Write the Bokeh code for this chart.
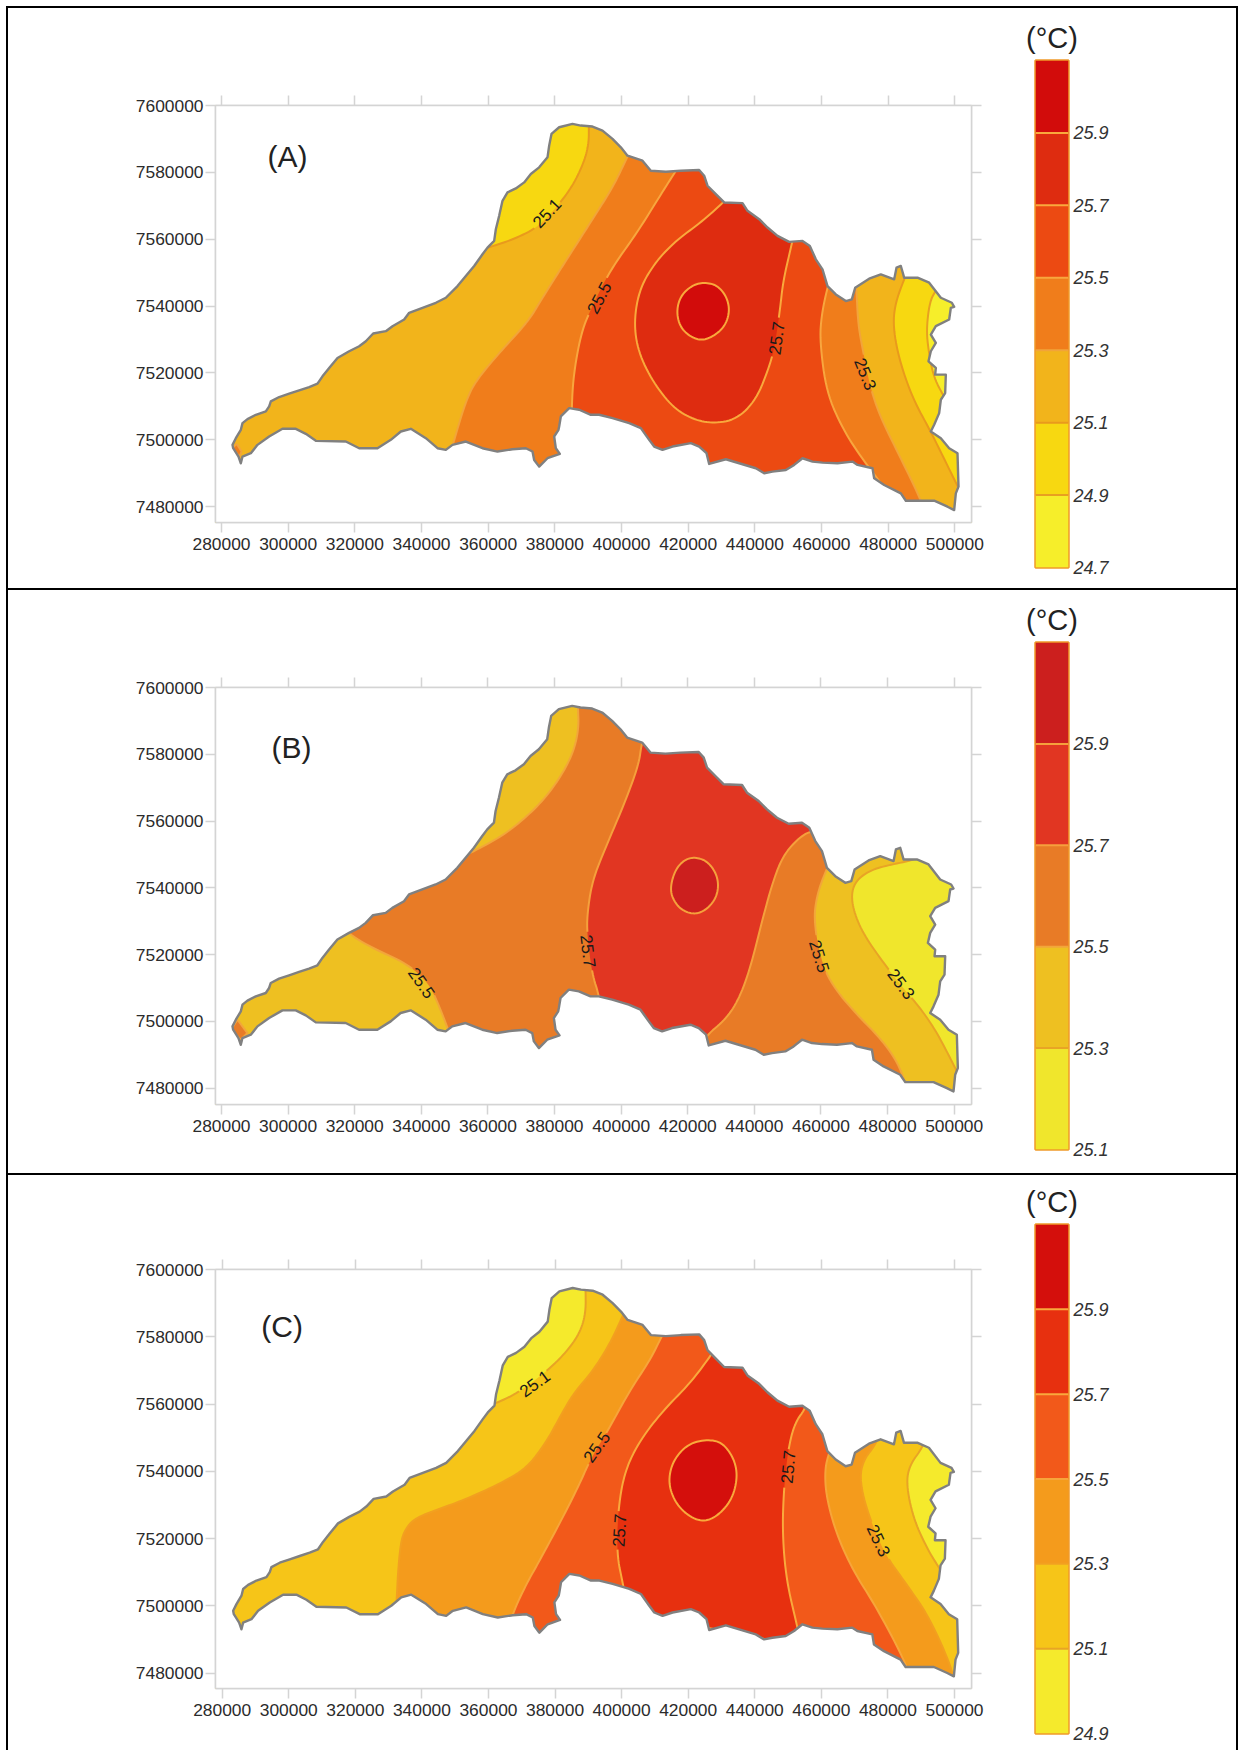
from bokeh.plotting import figure
from bokeh.layouts import column, row
from bokeh.models import (LinearAxis, FixedTicker, BasicTickFormatter, Div, Label,
                          Range1d, ColumnDataSource)
from bokeh.core.properties import value
from bokeh.embed import file_html
from bokeh.resources import INLINE

FONT = "Liberation Sans"
X_TICKS = [280000 + 20000 * i for i in range(12)]
Y_TICKS = [7480000 + 20000 * i for i in range(7)]

# Basin outline (km)
OUTLINE = [(285.8,7493.0),(285.1,7495.0),(283.5,7497.5),(283.3,7498.5),(284.3,7500.5),(285.8,7503.0),(286.3,7505.0),
(287.8,7506.2),(290.3,7507.5),(293.3,7508.5),(294.3,7510.0),(294.8,7511.5),(297.3,7512.8),(300.3,7513.8),(303.3,7514.8),
(306.3,7515.8),(308.8,7516.8),(310.3,7519.0),(312.3,7521.5),(314.8,7524.5),(318.3,7526.5),(321.3,7528.0),(323.3,7529.5),
(325.5,7531.8),(329.3,7532.5),(331.3,7534.0),(334.8,7536.0),(336.3,7538.0),(340.3,7539.5),(344.3,7541.0),(347.3,7542.5),
(350.8,7546.0),(353.3,7549.0),(355.8,7552.0),(358.3,7555.5),(359.8,7557.5),(361.8,7559.5),(362.3,7563.0),(363.3,7567.0),
(364.3,7571.5),(365.8,7574.0),(368.3,7575.2),(370.8,7577.0),(372.8,7579.5),(375.3,7581.5),(377.8,7584.5),(378.3,7588.0),
(379.0,7591.5),(381.3,7593.5),(385.3,7594.5),(387.8,7594.0),(391.3,7593.7),(394.3,7592.5),(397.3,7590.0),(399.8,7587.5),
(401.8,7585.0),(406.3,7583.5),(408.8,7580.5),(413.3,7580.2),(417.8,7580.5),(423.3,7580.7),(424.8,7579.0),(425.8,7576.0),
(428.3,7573.5),(430.8,7571.0),(436.3,7570.8),(437.8,7568.5),(441.3,7566.0),(443.8,7563.5),(446.8,7561.0),(450.3,7559.2),
(454.3,7559.5),(456.5,7558.0),(458.3,7554.0),(460.3,7551.0),(461.8,7546.0),(464.3,7543.5),(467.3,7541.5),(469.1,7542.0),
(470.1,7545.5),(474.3,7548.2),(477.8,7549.5),(481.8,7548.0),(482.5,7551.5),(483.8,7552.0),(484.8,7548.5),(488.8,7548.5),
(492.3,7547.0),(495.8,7542.5),(499.1,7541.0),(499.8,7539.8),(498.8,7539.5),(498.3,7536.0),(494.3,7534.0),(492.8,7531.5),
(494.3,7529.0),(492.8,7526.5),(492.1,7523.5),(494.3,7521.5),(494.1,7519.5),(497.3,7519.5),(497.1,7514.0),(495.8,7512.0),
(495.3,7508.0),(493.8,7504.5),(492.8,7502.5),(495.8,7500.5),(498.3,7497.5),(500.8,7496.0),(501.1,7486.0),(500.3,7484.0),
(499.8,7479.0),(497.8,7480.0),(493.8,7481.8),(485.3,7481.8),(483.8,7484.0),(478.8,7486.5),(475.8,7488.5),(475.3,7491.5),
(470.8,7492.5),(469.3,7493.5),(464.8,7493.0),(460.3,7493.2),(457.3,7493.5),(454.3,7494.5),(451.8,7492.5),(449.3,7491.0),
(445.3,7490.5),(442.8,7490.0),(440.3,7491.5),(435.3,7493.0),(431.3,7494.2),(426.3,7492.8),(425.5,7496.0),(423.3,7498.0),
(420.8,7499.0),(415.3,7498.0),(412.3,7497.0),(409.8,7498.0),(408.3,7500.0),(405.8,7503.5),(402.3,7505.0),(397.3,7506.5),
(393.3,7507.5),(390.8,7507.5),(387.3,7509.0),(384.3,7509.5),(381.8,7507.0),(381.3,7504.0),(381.1,7503.0),(379.8,7501.0),
(380.3,7497.5),(381.5,7495.8),(377.8,7494.5),(375.3,7492.0),(373.8,7494.0),(373.3,7496.5),(371.3,7497.5),(367.3,7497.2),
(362.8,7496.5),(358.3,7497.5),(353.3,7499.5),(349.3,7498.5),(347.3,7497.0),(344.8,7497.5),(341.3,7500.5),(336.8,7503.3),
(333.8,7502.5),(330.8,7500.0),(326.8,7497.5),(321.3,7497.5),(317.3,7499.5),(308.3,7499.7),(305.3,7501.8),(302.3,7503.3),
(298.3,7503.3),(294.3,7501.0),(290.8,7498.5),(288.8,7496.0),(286.3,7495.0)]

# Panel A contours
A_251W = [(390.2,7597),(390.2,7593.6),(390.2,7589.1),(389.1,7584.0),(385.9,7576.9),(381.6,7570.8),(375.2,7563.8),(368.2,7560.2),(360.7,7557.7),(355,7556)]
A_253W = [(404,7589),(401.7,7584.5),(397.6,7575.9),(391.2,7565.8),(382.7,7552.6),(376.3,7542.5),(372.0,7535.4),(364.5,7527.3),(357.5,7519.2),(353.8,7513.2),(349.5,7499.0),(347,7490)]
A_255W = [(420,7586),(416.0,7580.0),(411.5,7572.9),(404.5,7561.7),(396.5,7550.6),(391.0,7539.5),(388.0,7532.4),(385.7,7520.2),(385.0,7509.6),(385,7490)]
A_255E = [(464,7552),(462.0,7546.6),(460.0,7537.4),(459.5,7529.4),(461.5,7514.2),(466.5,7503.0),(472.5,7493.9),(481,7483)]
A_253E = [(470,7552),(470.5,7544.5),(471.0,7534.4),(472.5,7526.3),(474.5,7516.2),(477.5,7507.1),(483.5,7495.0),(489.5,7482.8),(491,7478)]
A_251E = [(487,7553),(485.0,7548.6),(482.0,7540.5),(481.5,7533.4),(483.5,7523.3),(487.5,7512.1),(492.5,7503.0),(497.5,7492.9),(501.0,7485.8),(503,7482)]
A_249E = [(497,7550),(494.5,7545.0),(492.5,7541.5),(491.5,7533.4),(492.0,7527.3),(493.5,7519.2),(496.5,7513.2),(500,7508)]
A_257 = [(433,7574),(430.5,7570.9),(423.5,7564.8),(416.5,7559.7),(410.5,7553.6),(405.5,7545.5),(403.7,7535.4),(405.0,7526.3),(409.5,7517.2),(415.5,7509.6),(421.5,7506.1),(427.5,7504.9),(434.5,7506.1),(440.5,7512.1),(444.5,7522.3),(446.0,7528.3),(447.5,7538.5),(448.5,7547.6),(451.0,7558.2),(452,7563)]
A_259 = [(424.5,7547.1),(428.5,7546.4),(431.5,7543.0),(432.5,7538.5),(431.0,7533.9),(427.5,7530.9),(424.0,7529.7),(420.5,7530.9),(417.5,7533.9),(416.5,7538.5),(417.7,7543.0),(421.0,7546.1)]
A_TIP = [(284.6,7498.8),(286.0,7496.5),(285.4,7495.0),(283.2,7497.5)]

# Panel B contours
B_253 = [(492,7552),(488.8,7548.5),(481.3,7547.0),(475.3,7545.5),(470.8,7542.5),(469.1,7538.5),(469.8,7533.0),(472.8,7526.0),(478.8,7517.5),(483.8,7511.0),(489.8,7504.0),(494.3,7497.5),(498.3,7490.0),(500.8,7485.0),(503,7481)]
B_255NW = [(387,7598),(387.0,7594.3),(387.3,7588.0),(385.8,7581.0),(382.3,7574.0),(377.3,7567.0),(371.3,7561.0),(364.3,7555.5),(355.8,7551.0),(350,7548)]
B_255SW = [(313,7532),(318.3,7526.0),(326.3,7521.5),(335.3,7517.5),(341.8,7512.0),(344.8,7506.0),(348.1,7497.5),(350,7492)]
B_255E = [(465,7552),(461.8,7546.0),(458.8,7538.0),(457.8,7530.0),(460.3,7517.0),(464.3,7509.5),(471.3,7501.5),(477.3,7495.5),(482.3,7489.0),(485.3,7482.0),(487,7476)]
B_257W = [(408,7590),(406.1,7583.0),(405.3,7577.0),(401.3,7566.0),(395.3,7552.0),(391.3,7542.0),(389.8,7532.0),(389.8,7526.0),(391.3,7514.0),(393.5,7507.5),(396,7490)]
B_257E = [(460,7556),(456.8,7557.2),(452.3,7554.0),(448.3,7549.0),(445.3,7541.0),(442.3,7530.0),(438.8,7516.0),(435.3,7506.5),(431.3,7500.5),(425.8,7496.0),(422,7490)]
B_259 = [(422.3,7549.2),(425.8,7548.0),(428.5,7544.5),(429.3,7540.5),(428.3,7536.5),(425.3,7533.2),(421.8,7532.0),(417.8,7533.5),(415.3,7537.0),(414.8,7540.5),(416.3,7545.5),(419.1,7548.5)]
B_TIP = [(284.8,7500.5),(287.8,7496.5),(285.8,7494.5),(282.8,7497.5)]

# Panel C contours
C_251W = [(389,7598),(389.2,7593.7),(389.2,7586.9),(387.4,7581.0),(383.4,7575.5),(378.4,7570.5),(369.4,7563.6),(362.5,7560.3),(356,7558)]
C_253W = [(402,7590),(400.0,7585.4),(396.5,7578.0),(391.5,7570.0),(385.5,7563.1),(381.5,7556.2),(377.4,7548.7),(371.4,7540.8),(363.4,7536.3),(353.5,7531.8),(345.5,7528.9),(337.5,7525.9),(334.5,7521.9),(333.5,7517.5),(332.8,7509.5),(332.5,7503.1),(332,7495)]
C_255W = [(415,7586),(412.0,7580.0),(408.5,7573.0),(402.5,7564.1),(396.5,7553.2),(390.5,7543.3),(387.4,7536.3),(382.4,7526.4),(375.4,7513.5),(371.4,7506.5),(367.4,7498.1),(365,7490)]
C_255E = [(465,7552),(462.3,7545.7),(461.0,7540.2),(461.5,7532.3),(464.5,7521.4),(469.5,7510.5),(476.5,7499.6),(484.5,7484.7),(487,7478)]
C_253E = [(478,7553),(476.5,7548.2),(472.5,7543.2),(471.5,7537.2),(474.0,7527.3),(479.0,7515.4),(485.5,7506.5),(492.5,7496.5),(499.5,7480.8),(500,7475)]
C_251E = [(492,7552),(490.5,7547.2),(486.5,7541.8),(485.5,7536.3),(487.5,7526.4),(491.5,7517.5),(495.5,7511.0),(499,7506)]
C_257W = [(429,7578),(426.5,7574.0),(420.5,7566.1),(412.5,7558.1),(405.5,7549.2),(401.0,7540.2),(399.0,7529.3),(398.5,7515.4),(400.5,7506.0),(402,7498)]
C_257E = [(456,7565),(455.7,7559.3),(452.0,7554.4),(450.0,7546.4),(448.7,7534.5),(448.3,7521.4),(449.5,7507.5),(452.7,7494.1),(454,7488)]
C_259 = [(426.0,7549.5),(430.5,7548.4),(434.0,7543.3),(434.8,7537.8),(433.0,7531.3),(428.5,7526.4),(424.0,7524.9),(419.0,7527.4),(415.5,7531.8),(414.0,7537.3),(415.5,7543.3),(420.0,7548.2)]

# Colour levels: bottom edge of each class, low to high
LEVELS_A = [24.7, 24.9, 25.1, 25.3, 25.5, 25.7, 25.9, 26.1]
COLORS_A = ["#f6ee2a", "#f7d811", "#f2b41b", "#f07d1b", "#ec4a12", "#de2c10", "#d20c0b"]
LINES_A = ["#e8a020", "#e8a020", "#e99a1c", "#f2a43a", "#f8a63e", "#f9a93c", "#f9a93c"]
LEVELS_B = [25.1, 25.3, 25.5, 25.7, 25.9, 26.1]
COLORS_B = ["#f0e62c", "#eec021", "#e87b26", "#e13622", "#cc1f1e"]
LINES_B = ["#e8a020", "#e8a425", "#f2a63a", "#f5a03c", "#f5a03c"]
LEVELS_C = [24.9, 25.1, 25.3, 25.5, 25.7, 25.9, 26.1]
COLORS_C = ["#f5ea2c", "#f6c518", "#f49b1c", "#f2591a", "#e7300f", "#d40f0c"]
LINES_C = ["#ec9c2a", "#e8a425", "#f2a020", "#f7a53a", "#f9a93c", "#f9a93c"]

LABELS_A = [("25.1",377.6,7567.8,47),("25.5",393.3,7542.5,62),("25.7",446.5,7530.4,82),("25.3",473.2,7519.7,-68)]
LABELS_B = [("25.5",340.1,7511.5,-55),("25.7",390.1,7521.0,-83),("25.5",459.5,7519.5,-73),("25.3",484.1,7511.2,-53)]
LABELS_C = [("25.1",373.9,7566.1,36),("25.5",392.5,7547.2,55),("25.7",399.3,7522.4,86),("25.7",450.0,7541.3,85),("25.3",477.2,7519.4,-65)]

X0, X1, Y0, Y1 = 270, 510, 7465, 7610
LABEL_GAP_KM = 5.0


def curve(points, closed=False, passes=3):
    """Round the corners of a read contour so that it is drawn as a smooth line."""
    pts = list(points)
    for _ in range(passes):
        out = [] if closed else [pts[0]]
        pairs = zip(pts, pts[1:] + pts[:1]) if closed else zip(pts, pts[1:])
        for a, b in pairs:
            out.append((0.75 * a[0] + 0.25 * b[0], 0.75 * a[1] + 0.25 * b[1]))
            out.append((0.25 * a[0] + 0.75 * b[0], 0.25 * a[1] + 0.75 * b[1]))
        if not closed:
            out.append(pts[-1])
        pts = out
    return pts


def poly(*parts):
    return [pt for part in parts for pt in part]


def km(points):
    return [p[0] * 1000 for p in points], [p[1] * 1000 for p in points]


def rev(part):
    return part[::-1]


LAYERS_A = [
    (1, poly([(X0, Y1), (497, Y1)], curve(A_249E), [(X1, 7508), (X1, Y0), (X0, Y0)])),
    (2, poly(curve(A_251W), [(X0, 7540), (X0, Y0), (503, Y0)], rev(curve(A_251E)), [(487, Y1), (390.2, Y1)])),
    (3, poly(A_TIP)),
    (3, poly(curve(A_253W), [(347, Y0), (491, Y0)], rev(curve(A_253E)), [(470, Y1), (404, Y1)])),
    (4, poly(curve(A_255W), [(385, Y0), (481, Y0)], rev(curve(A_255E)), [(464, Y1), (420, Y1)])),
    (5, poly(curve(A_257), [(443, 7575)])),
    (6, poly(curve(A_259, closed=True))),
]
LAYERS_B = [
    (1, poly(curve(B_253), [(503, Y0), (X0, Y0), (X0, Y1), (492, Y1)])),
    (2, poly(B_TIP)),
    (2, poly(curve(B_255NW), curve(B_255SW), [(350, Y0), (487, Y0)], rev(curve(B_255E)), [(465, Y1), (387, Y1)])),
    (3, poly(curve(B_257W), rev(curve(B_257E)), [(460, 7575), (425, 7590)])),
    (4, poly(curve(B_259, closed=True))),
]
LAYERS_C = [
    (1, poly(curve(C_251W), [(X0, 7540), (X0, Y0), (503, Y0), (503, 7506)], rev(curve(C_251E)), [(492, Y1), (389, Y1)])),
    (2, poly(curve(C_253W), [(332, Y0), (500, Y0)], rev(curve(C_253E)), [(478, Y1), (402, Y1)])),
    (3, poly(curve(C_255W), [(365, Y0), (487, Y0)], rev(curve(C_255E)), [(465, Y1), (415, Y1)])),
    (4, poly(curve(C_257W), rev(curve(C_257E)), [(440, 7578)])),
    (5, poly(curve(C_259, closed=True))),
]


def gapped_runs(points, labels):
    """Split a ring into stretches that leave a gap under the contour labels."""
    runs, cur = [], []
    for pt in points + points[:1]:
        near = any((pt[0] - l[1]) ** 2 + (pt[1] - l[2]) ** 2 < LABEL_GAP_KM ** 2 for l in labels)
        if near:
            if len(cur) > 1:
                runs.append(cur)
            cur = []
        else:
            cur.append(pt)
    if len(cur) > 1:
        runs.append(cur)
    return runs


def map_figure(layers, colors, lines, labels, name, name_xy, xr, yr, border_top, frame_h, total_h):
    left, frame_w, total_w = 207, 756, 1012
    p = figure(width=total_w, height=total_h, frame_width=frame_w, frame_height=frame_h, frame_align=False,
               min_border_left=left, min_border_right=total_w - left - frame_w,
               min_border_top=border_top, min_border_bottom=total_h - border_top - frame_h,
               x_range=Range1d(*xr), y_range=Range1d(*yr), toolbar_location=None,
               output_backend="svg", background_fill_color="white", border_fill_color="white",
               outline_line_color="#d4d4d4", outline_line_width=1.5)
    p.grid.visible = False
    p.axis.visible = False
    for side in ("below", "left", "above", "right"):
        dim_ticks = X_TICKS if side in ("below", "above") else Y_TICKS
        ax = LinearAxis(ticker=FixedTicker(ticks=dim_ticks), formatter=BasicTickFormatter(use_scientific=False),
                        axis_line_color="#d4d4d4", axis_line_width=1.5,
                        major_tick_line_color="#d4d4d4", major_tick_line_width=1.5,
                        major_tick_out=10, major_tick_in=0, minor_tick_line_color=None,
                        major_label_text_font=FONT, major_label_text_font_size="17.4px",
                        major_label_text_color="#2b2b2b", major_label_standoff=5 if side == "below" else 2)
        if side in ("above", "right"):
            ax.major_label_overrides = {t: "" for t in dim_ticks}
        p.add_layout(ax, side)
    ex, ey = km([(X0, Y0), (X1, Y0), (X1, Y1), (X0, Y1)])
    p.patch(ex, ey, fill_color=colors[0], line_color=None)
    for idx, pts in layers:
        xs, ys = km(pts)
        p.patch(xs, ys, fill_color=colors[idx], line_color=None)
        runs = [km(r) for r in gapped_runs(pts, labels)]
        p.multi_line([r[0] for r in runs], [r[1] for r in runs], line_color=lines[idx], line_width=2,
                     line_join="round")
    ox, oy = km(OUTLINE)
    p.multi_polygons(xs=[[[ex, ox]]], ys=[[[ey, oy]]], fill_color="white", line_color="#808080", line_width=2.4,
                     line_join="round")
    src = ColumnDataSource(dict(text=[l[0] for l in labels], x=[l[1] * 1000 for l in labels],
                                y=[l[2] * 1000 for l in labels], a=[l[3] for l in labels]))
    p.text(x="x", y="y", text="text", angle="a", angle_units="deg", source=src, text_font=value(FONT),
           text_font_size="17px", text_color="#1a1a1a", text_align="center", text_baseline="middle")
    p.add_layout(Label(x=name_xy[0] * 1000, y=name_xy[1] * 1000, text=name, text_font=FONT, text_font_size="30px",
                       text_color="#222222", text_align="center", text_baseline="middle"))
    return p


def bar_figure(levels, colors, lines, border_top, frame_h, total_h):
    left, frame_w, total_w = 15, 33, 216
    p = figure(width=total_w, height=total_h, frame_width=frame_w, frame_height=frame_h, frame_align=False,
               min_border_left=left, min_border_right=total_w - left - frame_w,
               min_border_top=border_top, min_border_bottom=total_h - border_top - frame_h,
               x_range=Range1d(0, 1), y_range=Range1d(levels[0], levels[-1]), toolbar_location=None,
               output_backend="svg", background_fill_color="white", border_fill_color="white",
               outline_line_color="#f09a2a", outline_line_width=2.5, title="(°C)")
    p.title.align = "center"
    p.title.text_font = FONT
    p.title.text_font_size = "29px"
    p.title.text_font_style = "normal"
    p.title.text_color = "#222222"
    p.title.standoff = 14
    p.grid.visible = False
    p.axis.visible = False
    p.quad(left=0, right=1, bottom=levels[:-1], top=levels[1:], fill_color=colors, line_color=None)
    p.segment(x0=0, x1=1, y0=levels[1:-1], y1=levels[1:-1], line_color=lines[1:], line_width=2)
    ax = LinearAxis(ticker=FixedTicker(ticks=levels[:-1]), axis_line_color=None, major_tick_line_color=None,
                    minor_tick_line_color=None, major_label_text_font=FONT, major_label_text_font_size="18px",
                    major_label_text_font_style="italic", major_label_text_color="#333333",
                    major_label_standoff=5, major_tick_out=0, major_tick_in=0)
    p.add_layout(ax, "right")
    return p


def rule(width, height):
    return Div(text="", width=width, height=height, margin=0, styles={"background-color": "black"})


rows = [
    rule(1228, 2),
    row(map_figure(LAYERS_A, COLORS_A, LINES_A, LABELS_A, "(A)", (299.8, 7584.8), (278200, 505000), (7475280, 7600000), 97, 417, 580),
        bar_figure(LEVELS_A, COLORS_A, LINES_A, 52, 507, 580), spacing=0),
    rule(1228, 2),
    row(map_figure(LAYERS_B, COLORS_B, LINES_B, LABELS_B, "(B)", (301, 7582), (278200, 505200), (7475100, 7600000), 97, 417, 583),
        bar_figure(LEVELS_B, COLORS_B, LINES_B, 52, 507, 583), spacing=0),
    rule(1228, 2),
    row(map_figure(LAYERS_C, COLORS_C, LINES_C, LABELS_C, "(C)", (298, 7583), (278000, 505100), (7475400, 7600000), 94, 419, 575),
        bar_figure(LEVELS_C, COLORS_C, LINES_C, 49, 509, 575), spacing=0),
]
page = row(rule(2, 1744), column(*rows, spacing=0), rule(2, 1744), spacing=0, margin=(6, 0, 0, 6))
open("out.html", "w").write(file_html(page, INLINE))
